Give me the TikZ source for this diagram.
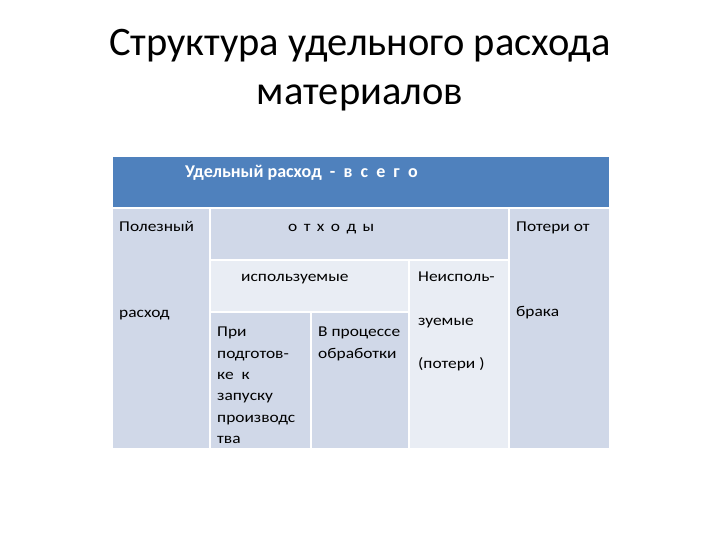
\documentclass[tikz,border=0pt]{standalone}
\usepackage{fontspec}
\setmainfont{Carlito}
\newfontfamily\cellfont[FakeStretch=1.16]{Carlito}
\definecolor{hdrblue}{HTML}{4F81BD}
\definecolor{celldark}{HTML}{D0D8E8}
\definecolor{celllight}{HTML}{E9EDF4}

\begin{document}
\begin{tikzpicture}[x=1pt, y=-1pt,
    darkcell/.style={fill=celldark},
    lightcell/.style={fill=celllight},
    ttl/.style={anchor=base, inner sep=0pt, font=\fontsize{40.5}{42}\selectfont},
    txt/.style={anchor=base west, inner sep=0pt, align=left, font=\cellfont\fontsize{15}{21.3}\selectfont}]
    \useasboundingbox[fill=white] (0,0) rectangle (720,540);

    % title
    \node (t1) at (360,56) [ttl] {Структура удельного расхода};
    \node (t2) at (360,105) [ttl] {материалов};

    % cells of the table
    \fill[hdrblue] (113,157) rectangle (609,207);
    \fill[darkcell] (113,209) rectangle (209,448);
    \fill[darkcell] (211,209) rectangle (508,259);
    \fill[darkcell] (510,209) rectangle (609,448);
    \fill[lightcell] (211,261) rectangle (408,311);
    \fill[lightcell] (410,261) rectangle (508,448);
    \fill[darkcell] (211,313) rectangle (310,448);
    \fill[darkcell] (312,313) rectangle (408,448);

    % texts
    \node (all) at (185,178) [txt, font=\bfseries\fontsize{18}{20}\selectfont, text=white] {Удельный расход \ - \ в \ с \ е \ г \ о};
    \node (pol) at (119,231) [txt] {Полезный};
    \node (ras) at (119,317) [txt] {расход};
    \node (otx) at (288,231) [txt] {о \,т \,х \,о \,д \,ы};
    \node (pot) at (516,231) [txt] {Потери от};
    \node (bra) at (516,316) [txt] {брака};
    \node (isp) at (241,281) [txt] {используемые};
    \node (ne1) at (418,281) [txt] {Неисполь-};
    \node (ne2) at (418,325) [txt] {зуемые};
    \node (ne3) at (418,368) [txt] {(потери )};
    \node (pri) at (217,327) [txt, anchor=north west] {При\\подготов-\\ке \ к\\запуску\\производс\\тва};
    \node (pro) at (318,327) [txt, anchor=north west] {В процессе\\обработки};
\end{tikzpicture}
\end{document}
